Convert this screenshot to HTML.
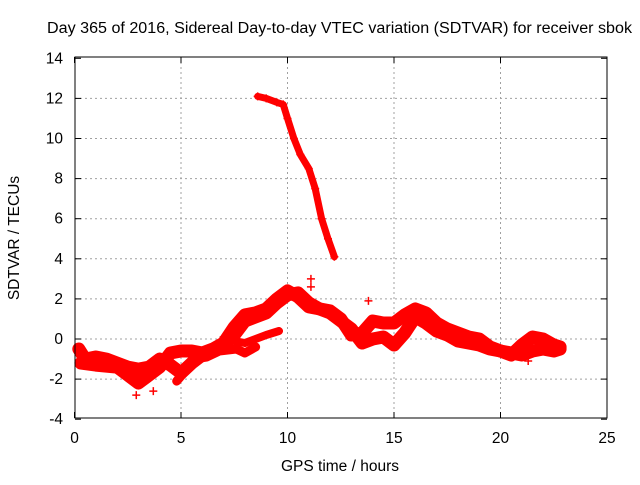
<!DOCTYPE html>
<html><head><meta charset="utf-8"><style>
body{margin:0;background:#fff}
svg text{font-family:"Liberation Sans",sans-serif;font-size:15.5px;fill:#000}
</style></head><body>
<svg id="chart" width="640" height="480" xmlns="http://www.w3.org/2000/svg">
<text x="47" y="33" textLength="585" lengthAdjust="spacingAndGlyphs">Day 365 of 2016, Sidereal Day-to-day VTEC variation (SDTVAR) for receiver sbok</text>
<g id="grid"></g>
<g id="ticks"></g>
<g id="series"></g>
<rect x="75" y="57" width="532" height="361" fill="none" stroke="#000" stroke-width="1"/>
<text x="340" y="471" text-anchor="middle">GPS time / hours</text>
<text x="19" y="238" text-anchor="middle" transform="rotate(-90 19 238)">SDTVAR / TECUs</text>
</svg>
<script>
const xTicks=[0,5,10,15,20,25];
const yTicks=[-4,-2,0,2,4,6,8,10,12,14];
const bandA=[[0.2,-0.5],[0.5,-1],[1,-0.9],[1.5,-1],[2,-1.2],[2.5,-1.4],[3,-1.5],[3.5,-1.4],[4,-1.0],[4.5,-1.3],[5,-1.7],[5.5,-1.2],[6,-0.8],[6.5,-0.6],[7,-0.3],[7.5,0.2],[8,0.9],[8.5,1.1],[9,1.3],[9.5,1.8],[10,2.2],[10.5,2.3],[11,1.8],[11.5,1.5],[12,1.3],[12.5,0.9],[13,0.5],[13.5,-0.2],[14,0],[14.5,0.1],[15,-0.3],[15.5,0.3],[16,1.1],[16.5,0.8],[17,0.4],[17.5,0.2],[18,-0.1],[18.5,-0.2],[19,-0.3],[19.5,-0.5],[20,-0.6],[20.5,-0.7],[21,-0.8],[21.5,-0.6],[22,-0.5],[22.5,-0.6],[22.8,-0.5]];
const bandB=[[0.3,-1.2],[1,-1.3],[2,-1.4],[2.5,-1.8],[3,-2.2],[3.5,-1.8],[4,-1.4],[4.5,-0.7],[5,-0.6],[5.5,-0.6],[6,-0.7],[6.5,-0.5],[7,-0.2],[7.5,0.6],[8,1.2],[8.5,1.3],[9,1.5],[9.5,2.0],[10,2.4],[10.5,2.1],[11,1.6],[11.5,1.5],[12,1.4],[12.5,1.0],[13,0.2],[13.5,0.3],[14,0.9],[14.5,0.8],[15,0.8],[15.5,1.2],[16,1.5],[16.5,1.3],[17,0.8],[17.5,0.5],[18,0.3],[18.5,0.1],[19,0.0],[19.5,-0.4],[20,-0.6],[20.5,-0.8],[21,-0.3],[21.5,0.1],[22,0.0],[22.5,-0.3],[22.8,-0.4]];
const bandC=[[7,0],[7.5,-0.1],[8,-0.2],[8.5,0],[9,0.2],[9.6,0.4]];
const bandD=[[4.8,-2.1],[5.2,-1.6],[5.6,-1.0],[6.2,-0.9],[6.8,-0.6],[7.6,-0.5],[8,-0.7],[8.5,-0.4]];
const bandTop=[[8.6,12.1],[9,12],[9.5,11.8],[9.8,11.7],[10,11],[10.3,10],[10.6,9.2],[11,8.5],[11.3,7.5],[11.6,6],[11.9,5],[12.2,4.1]];
const outliers=[[2.9,-2.8],[3.7,-2.6],[11.1,3.0],[11.1,2.6],[13.8,1.9],[15.0,-0.4],[21.3,-1.1],[7.0,0.1]];
const X=v=>74.5+v*21.3;
const Y=v=>339-v*20.05;
const ns="http://www.w3.org/2000/svg";
const grid=document.getElementById('grid'),ticks=document.getElementById('ticks'),ser=document.getElementById('series');
function mk(t,a,p){const e=document.createElementNS(ns,t);for(const k in a)e.setAttribute(k,a[k]);p.appendChild(e);return e;}
xTicks.forEach(v=>{
 if(v>0&&v<25){const g=mk('line',{x1:X(v),x2:X(v),y1:57,y2:418,stroke:'#a0a0a0','stroke-dasharray':'2,3'},grid);
 
 }
 mk('line',{x1:X(v),x2:X(v),y1:418,y2:412,stroke:'#000'},ticks);
 mk('line',{x1:X(v),x2:X(v),y1:57,y2:63,stroke:'#000'},ticks);
 const t=mk('text',{x:X(v),y:443,'text-anchor':'middle'},ticks);t.textContent=v;
 
 
});
yTicks.forEach(v=>{
 if(v>-4&&v<14){const g=mk('line',{x1:75,x2:607,y1:Y(v),y2:Y(v),stroke:'#a0a0a0','stroke-dasharray':'2,3'},grid);
 
 }
 mk('line',{x1:75,x2:81,y1:Y(v),y2:Y(v),stroke:'#000'},ticks);
 mk('line',{x1:601,x2:607,y1:Y(v),y2:Y(v),stroke:'#000'},ticks);
 const t=mk('text',{x:63,y:Y(v)+5,'text-anchor':'end'},ticks);t.textContent=v;
 
 
});
function band(arr,w,name){
 const d=arr.map((p,i)=>(i?'L':'M')+X(p[0]).toFixed(1)+' '+Y(p[1]).toFixed(1)).join(' ');
 const e=mk('path',{d:d,fill:'none',stroke:'#ff0000','stroke-width':w,'stroke-linejoin':'round','stroke-linecap':'round'},ser);
 
 
 arr.forEach(p=>plus(p));
}
function plus(p){
 const x=X(p[0]),y=Y(p[1]);
 const e=mk('path',{d:`M${x-4} ${y}H${x+4}M${x} ${y-4}V${y+4}`,stroke:'#ff0000','stroke-width':1.5},ser);
 
 
}
band(bandA,13,'band-a');
band(bandB,13,'band-b');
band(bandC,8,'band-c');
band(bandD,9,'band-d');
band(bandTop,7,'band-top');
outliers.forEach(p=>plus(p));
</script>
</body></html>
